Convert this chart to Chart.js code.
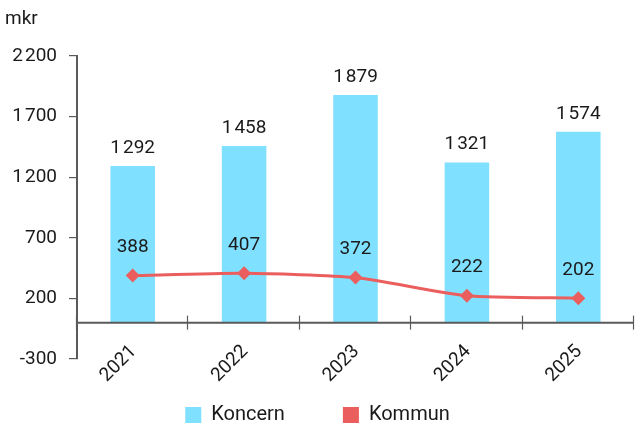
<!DOCTYPE html>
<html>
<head>
<meta charset="utf-8">
<script src="https://cdn.jsdelivr.net/npm/chart.js@4/dist/chart.umd.min.js"></script>
<style>
  html, body { margin: 0; padding: 0; background: #fff; }
  #wrap { width: 635px; height: 427px; position: relative; }
</style>
</head>
<body>
<div id="wrap"><canvas id="chart"></canvas></div>
<script>
(function () {
  'use strict';

  // data
  var years = ['2021', '2022', '2023', '2024', '2025'];
  var koncern = [1292, 1458, 1879, 1321, 1574];
  var kommun = [388, 407, 372, 222, 202];
  var yTicks = [-300, 200, 700, 1200, 1700, 2200];
  var unitLabel = 'mkr';

  var FONT = 'Roboto, "Noto Sans", sans-serif';
  var TEXT = '#1a1a1a';
  var AXIS = '#5a5a5a';

  function fmt(v) {
    var neg = v < 0;
    var s = String(Math.abs(v));
    var out = '';
    while (s.length > 3) {
      out = '\u200A' + s.slice(-3) + out;
      s = s.slice(0, -3);
    }
    return (neg ? '-' : '') + s + out;
  }

  // labels, x axis at zero, legend, unit
  var extras = {
    id: 'extras',
    afterDatasetsDraw: function (chart) {
      var ctx = chart.ctx;
      var xs = chart.scales.x;
      var ys = chart.scales.y;
      var area = chart.chartArea;
      var y0 = ys.getPixelForValue(0);

      ctx.save();
      // x axis line at 0
      ctx.strokeStyle = AXIS;
      ctx.lineWidth = 2;
      ctx.beginPath();
      ctx.moveTo(area.left, y0);
      ctx.lineTo(area.right, y0);
      ctx.stroke();
      // category boundary ticks
      ctx.lineWidth = 1.2;
      var half = (xs.getPixelForValue(1) - xs.getPixelForValue(0)) / 2;
      for (var i = 0; i <= years.length; i++) {
        var bx = i < years.length ? xs.getPixelForValue(i) - half : xs.getPixelForValue(i - 1) + half;
        bx = Math.round(bx) - 0.5;
        ctx.beginPath();
        ctx.moveTo(bx, y0 - 7);
        ctx.lineTo(bx, y0 + 7);
        ctx.stroke();
      }

      // x labels, rotated
      ctx.fillStyle = TEXT;
      ctx.font = '19px ' + FONT;
      ctx.textAlign = 'right';
      ctx.textBaseline = 'middle';
      years.forEach(function (yr, i) {
        ctx.save();
        ctx.translate(xs.getPixelForValue(i) + 1, y0 + 26);
        ctx.rotate(-Math.PI / 4);
        ctx.fillText(yr, 0, 0);
        ctx.restore();
      });

      // value labels
      ctx.textAlign = 'center';
      chart.getDatasetMeta(0).data.forEach(function (bar, i) {
        ctx.fillText(fmt(koncern[i]), bar.x, bar.y - 18);
      });
      chart.getDatasetMeta(1).data.forEach(function (pt, i) {
        ctx.fillText(fmt(kommun[i]), pt.x, pt.y - 28);
      });

      // unit
      ctx.textAlign = 'left';
      ctx.fillText(unitLabel, 5, 19);

      // legend
      ctx.font = '20px ' + FONT;
      var items = chart.data.datasets.map(function (ds) {
        return { text: ds.label, color: ds.legendColor, w: 16 + 10 + ctx.measureText(ds.label).width };
      });
      var gap = 58;
      var total = items.reduce(function (a, it) { return a + it.w; }, 0) + gap * (items.length - 1);
      var lx = (chart.width - total) / 2;
      items.forEach(function (it) {
        ctx.fillStyle = it.color;
        ctx.fillRect(lx, 407, 16, 16);
        ctx.fillStyle = TEXT;
        ctx.fillText(it.text, lx + 26, 415);
        lx += it.w + gap;
      });
      ctx.restore();
    }
  };

  new Chart(document.getElementById('chart'), {
    type: 'bar',
    data: {
      labels: years,
      datasets: [{
        type: 'bar',
        label: 'Koncern',
        data: koncern,
        backgroundColor: '#80E0FF',
        legendColor: '#80E0FF',
        barPercentage: 0.4,
        categoryPercentage: 1,
        order: 1
      }, {
        type: 'line',
        label: 'Kommun',
        data: kommun,
        borderColor: '#EB5E5E',
        backgroundColor: '#EB5E5E',
        legendColor: '#EB5E5E',
        borderWidth: 3,
        tension: 0.2,
        pointStyle: 'rectRot',
        pointRadius: 7,
        pointBorderWidth: 0,
        order: 0
      }]
    },
    options: {
      responsive: true,
      maintainAspectRatio: false,
      animation: false,
      layout: { autoPadding: false, padding: { left: 0, top: 56, right: 1, bottom: 68 } },
      plugins: { legend: { display: false }, tooltip: { enabled: false } },
      scales: {
        x: { display: false },
        y: {
          min: -300,
          max: 2200,
          afterBuildTicks: function (s) {
            s.ticks = yTicks.map(function (v) { return { value: v }; });
          },
          afterFit: function (s) { s.width = 77; },
          grid: { drawOnChartArea: false, drawTicks: true, tickLength: 8, color: AXIS, lineWidth: 1.2 },
          border: { display: true, color: AXIS, width: 2 },
          ticks: {
            padding: 12,
            color: TEXT,
            font: { family: FONT, size: 19 },
            callback: function (v) { return fmt(v); }
          }
        }
      }
    },
    plugins: [extras]
  });
})();
</script>
</body>
</html>
